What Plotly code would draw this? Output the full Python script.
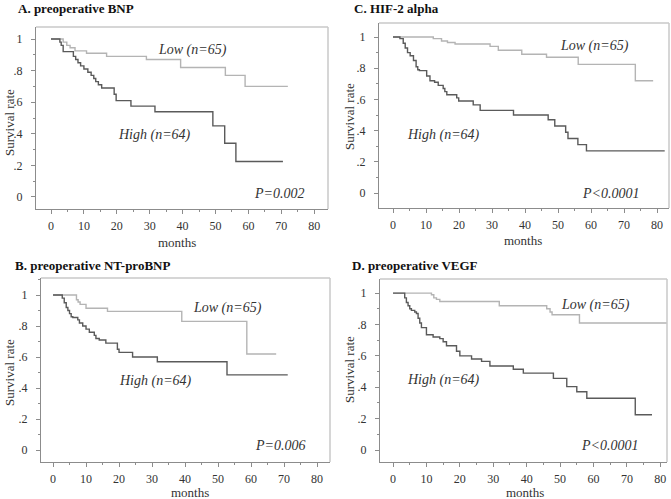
import plotly.graph_objects as go

W, H = 671, 499

# ---------------- data ----------------
A_low_t = [0, 3.7, 4.8, 5.8, 7.3, 10.8, 16.9, 29.0, 39.4, 53.0, 59.0, 72.0]
A_low_s = [1.0, 0.98, 0.96, 0.945, 0.925, 0.91, 0.89, 0.87, 0.82, 0.77, 0.70, 0.70]
A_high_t = [0, 2.7, 3.1, 3.7, 6.8, 7.5, 8.2, 9.0, 10.0, 11.2, 12.2, 13.0, 13.6, 14.4, 15.4, 19.2, 19.8, 24.3, 31.6, 49.2, 52.8, 56.2, 70.5]
A_high_s = [1.0, 0.98, 0.96, 0.92, 0.89, 0.87, 0.85, 0.83, 0.81, 0.79, 0.77, 0.75, 0.73, 0.71, 0.69, 0.65, 0.61, 0.575, 0.54, 0.45, 0.34, 0.225, 0.225]

C_low_t = [0, 12.2, 14.7, 16.5, 18.8, 29.4, 31.9, 39.0, 46.5, 56.1, 73.4, 78.8]
C_low_s = [1.0, 0.99, 0.975, 0.965, 0.955, 0.94, 0.915, 0.89, 0.87, 0.825, 0.72, 0.72]
C_high_t = [0, 2.1, 3.1, 3.7, 4.4, 5.2, 6.2, 7.0, 7.5, 8.0, 10.2, 11.2, 12.6, 13.7, 15.2, 15.7, 16.3, 19.3, 19.9, 24.3, 26.4, 36.5, 47.0, 49.0, 52.3, 53.0, 56.0, 58.6, 82.3]
C_high_s = [1.0, 0.99, 0.96, 0.93, 0.90, 0.88, 0.85, 0.81, 0.79, 0.785, 0.75, 0.72, 0.71, 0.69, 0.67, 0.65, 0.63, 0.61, 0.59, 0.565, 0.53, 0.50, 0.47, 0.43, 0.39, 0.35, 0.31, 0.27, 0.27]

B_low_t = [0, 7.1, 7.6, 8.2, 10.0, 16.5, 39.0, 58.7, 67.6]
B_low_s = [1.0, 0.97, 0.955, 0.94, 0.915, 0.895, 0.83, 0.62, 0.62]
B_high_t = [0, 2.8, 3.4, 4.0, 4.5, 5.0, 5.5, 6.0, 7.5, 8.0, 9.0, 10.0, 11.0, 12.5, 13.0, 14.0, 16.0, 19.5, 20.0, 24.1, 31.6, 52.7, 71.1]
B_high_s = [1.0, 0.98, 0.95, 0.92, 0.90, 0.88, 0.86, 0.855, 0.84, 0.82, 0.80, 0.78, 0.76, 0.74, 0.72, 0.71, 0.69, 0.65, 0.63, 0.60, 0.57, 0.485, 0.485]

D_low_t = [0, 11.5, 12.2, 13.0, 14.0, 31.8, 46.0, 47.0, 47.6, 55.8, 82.0]
D_low_s = [1.0, 0.99, 0.97, 0.96, 0.947, 0.92, 0.90, 0.88, 0.862, 0.81, 0.81]
D_high_t = [0, 3.5, 4.0, 4.5, 5.0, 5.5, 6.5, 7.0, 7.5, 8.0, 8.5, 10.0, 12.0, 14.0, 15.0, 16.0, 19.0, 20.0, 23.5, 26.5, 29.0, 36.0, 39.0, 48.0, 52.0, 55.0, 58.0, 72.5, 77.5]
D_high_s = [1.0, 0.97, 0.94, 0.92, 0.90, 0.89, 0.88, 0.87, 0.84, 0.81, 0.78, 0.735, 0.72, 0.71, 0.69, 0.665, 0.63, 0.60, 0.58, 0.565, 0.536, 0.515, 0.49, 0.457, 0.404, 0.372, 0.33, 0.225, 0.225]

panel_titles = ["A. preoperative BNP", "C. HIF-2 alpha", "B. preoperative NT-proBNP", "D. preoperative VEGF"]
low_label = "Low (n=65)"
high_label = "High (n=64)"
p_labels = ["P=0.002", "P<0.0001", "P=0.006", "P<0.0001"]
x_tickvals = [0, 10, 20, 30, 40, 50, 60, 70, 80]
y_tickvals = [0, 0.2, 0.4, 0.6, 0.8, 1.0]
y_ticktext = ["0", ".2", ".4", ".6", ".8", "1"]

# ---------------- layout (pixel boxes) ----------------
panels = [
    dict(data=(A_low_t, A_low_s, A_high_t, A_high_s), box=(36, 328, 27, 209),
         xr=[-4.56, 84.2], yr=[-0.076, 1.076],
         low_xy=(43, 0.93), high_xy=(31.6, 0.39), p_xy=(69.6, 0.025),
         title_xy=(16, 8), ytitle_xy=(9, 123), xtitle_xy=(177, 242)),
    dict(data=(C_low_t, C_low_s, C_high_t, C_high_s), box=(379, 669, 23, 208),
         xr=[-4.24, 83.6], yr=[-0.096, 1.09],
         low_xy=(61, 0.94), high_xy=(15.2, 0.37), p_xy=(66, 0.0),
         title_xy=(352, 8), ytitle_xy=(349, 117), xtitle_xy=(523, 241)),
    dict(data=(B_low_t, B_low_s, B_high_t, B_high_s), box=(41, 330, 278, 462),
         xr=[-3.64, 83.9], yr=[-0.077, 1.11],
         low_xy=(52.7, 0.914), high_xy=(30.9, 0.447), p_xy=(68.9, 0.03),
         title_xy=(13, 265), ytitle_xy=(9, 373), xtitle_xy=(190, 492)),
    dict(data=(D_low_t, D_low_s, D_high_t, D_high_s), box=(380, 667, 279, 462),
         xr=[-3.9, 82.0], yr=[-0.076, 1.09],
         low_xy=(60.5, 0.926), high_xy=(15, 0.447), p_xy=(65, 0.03),
         title_xy=(350, 265), ytitle_xy=(349, 370), xtitle_xy=(525, 492)),
]

LOW_C = "#b4b4b4"
HIGH_C = "#5a5a5a"
AX_C = "#8c8c8c"
FRAME_C = "#c8c8c8"
TXT_C = "#333333"
SERIF = "Liberation Serif"

fig = go.Figure()
annotations = []
shapes = []

for i, p in enumerate(panels):
    n = i + 1
    xa = "x" if n == 1 else f"x{n}"
    ya = "y" if n == 1 else f"y{n}"
    lt, ls, ht, hs = p["data"]
    fig.add_trace(go.Scatter(x=lt, y=ls, mode="lines", line=dict(color=LOW_C, width=1.4, shape="hv"),
                             xaxis=xa, yaxis=ya, showlegend=False, hoverinfo="skip"))
    fig.add_trace(go.Scatter(x=ht, y=hs, mode="lines", line=dict(color=HIGH_C, width=1.4, shape="hv"),
                             xaxis=xa, yaxis=ya, showlegend=False, hoverinfo="skip"))
    x0, x1, y0, y1 = p["box"]
    xdom = [x0 / W, x1 / W]
    ydom = [1 - y1 / H, 1 - y0 / H]
    xkey = "xaxis" if n == 1 else f"xaxis{n}"
    ykey = "yaxis" if n == 1 else f"yaxis{n}"
    fig.update_layout(**{
        xkey: dict(domain=xdom, range=p["xr"], anchor=ya, tickvals=x_tickvals,
                   showgrid=False, zeroline=False, showline=True, linecolor=AX_C, linewidth=1.3,
                   ticks="outside", ticklen=4, tickcolor=AX_C, tickwidth=1,
                   minor=dict(dtick=5, tick0=0, ticks="outside", ticklen=2, tickcolor=AX_C, showgrid=False),
                   tickfont=dict(family=SERIF, size=12, color=TXT_C), ticklabelstandoff=1,
                   fixedrange=True),
        ykey: dict(domain=ydom, range=p["yr"], anchor=xa, tickvals=y_tickvals, ticktext=y_ticktext,
                   showgrid=False, zeroline=False, showline=True, linecolor=AX_C, linewidth=1.3,
                   ticks="outside", ticklen=4, tickcolor=AX_C, tickwidth=1,
                   minor=dict(dtick=0.1, tick0=0, ticks="outside", ticklen=2, tickcolor=AX_C, showgrid=False),
                   tickfont=dict(family=SERIF, size=12, color=TXT_C), ticklabelstandoff=6,
                   fixedrange=True),
    })
    # light frame (top / right)
    shapes.append(dict(type="line", xref=f"{xa} domain", yref=f"{ya} domain", x0=0, x1=1, y0=1, y1=1,
                       line=dict(color=FRAME_C, width=1.5), layer="above"))
    shapes.append(dict(type="line", xref=f"{xa} domain", yref=f"{ya} domain", x0=1, x1=1, y0=0, y1=1,
                       line=dict(color=FRAME_C, width=1.5), layer="above"))
    # curve labels
    annotations.append(dict(x=p["low_xy"][0], y=p["low_xy"][1], xref=xa, yref=ya, text=f"<i>{low_label}</i>",
                            showarrow=False, font=dict(family=SERIF, size=14, color=TXT_C)))
    annotations.append(dict(x=p["high_xy"][0], y=p["high_xy"][1], xref=xa, yref=ya, text=f"<i>{high_label}</i>",
                            showarrow=False, font=dict(family=SERIF, size=14, color=TXT_C)))
    annotations.append(dict(x=p["p_xy"][0], y=p["p_xy"][1], xref=xa, yref=ya, text=f"<i>{p_labels[i]}</i>",
                            showarrow=False, font=dict(family=SERIF, size=14, color=TXT_C)))
    # panel title
    tx, ty = p["title_xy"]
    annotations.append(dict(x=tx / W, y=1 - ty / H, xref="paper", yref="paper", xanchor="left", yanchor="middle",
                            text=f"<b>{panel_titles[i]}</b>", showarrow=False,
                            font=dict(family=SERIF, size=13, color="#111111")))
    # axis titles
    yx, yy = p["ytitle_xy"]
    annotations.append(dict(x=yx / W, y=1 - yy / H, xref="paper", yref="paper", xanchor="center", yanchor="middle",
                            text="Survival rate", textangle=-90, showarrow=False,
                            font=dict(family=SERIF, size=13, color=TXT_C)))
    mx, my = p["xtitle_xy"]
    annotations.append(dict(x=mx / W, y=1 - my / H, xref="paper", yref="paper", xanchor="center", yanchor="middle",
                            text="months", showarrow=False,
                            font=dict(family=SERIF, size=13, color=TXT_C)))

fig.update_layout(width=W, height=H, margin=dict(l=0, r=0, t=0, b=0),
                  paper_bgcolor="white", plot_bgcolor="rgba(0,0,0,0)",
                  font=dict(family=SERIF),
                  annotations=annotations, shapes=shapes, showlegend=False)

fig.write_html("out.html", config={"displayModeBar": False},
               post_script="document.body.style.margin='0';document.body.style.overflow='hidden';")
